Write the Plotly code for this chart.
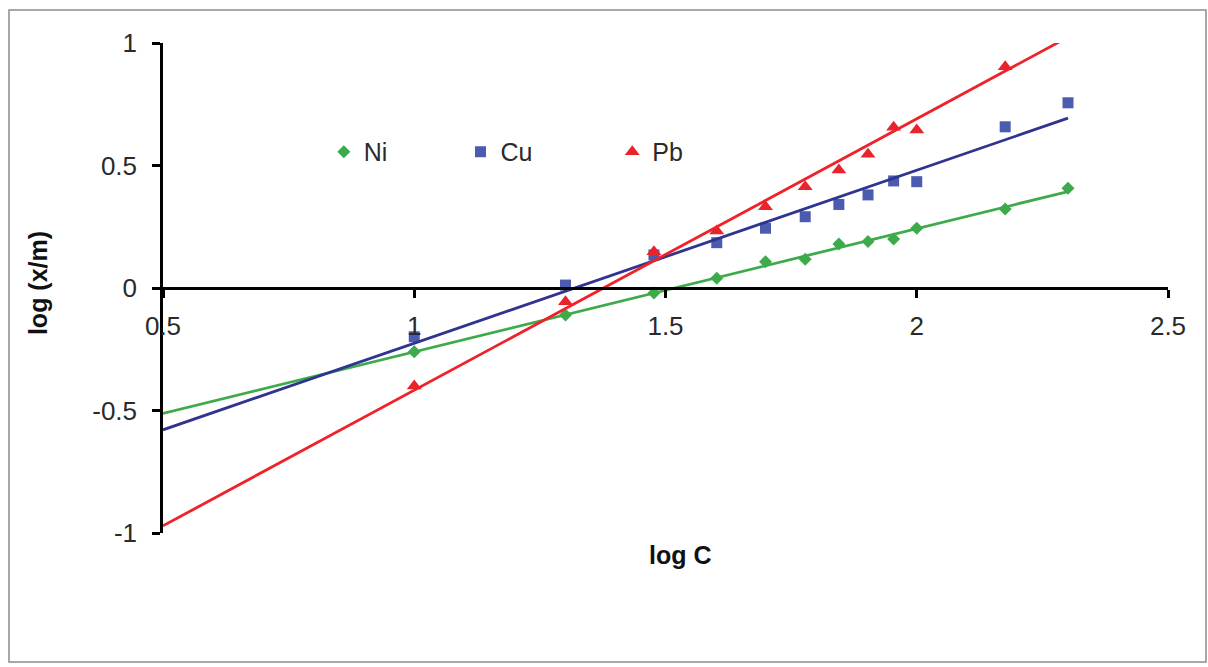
import numpy as np
import plotly.graph_objects as go

# log of equilibrium concentration (x axis)
log_c = [1.0, 1.301, 1.477, 1.602, 1.699, 1.778, 1.845, 1.903, 1.954, 2.0, 2.176, 2.301]

# log (x/m) for each metal
ni = [-0.26, -0.11, -0.02, 0.04, 0.107, 0.117, 0.18, 0.19, 0.20, 0.244, 0.322, 0.407]
cu = [-0.199, 0.012, 0.135, 0.185, 0.244, 0.291, 0.341, 0.38, 0.437, 0.434, 0.658, 0.756]
pb = [-0.40, -0.056, 0.148, 0.233, 0.332, 0.413, 0.482, 0.546, 0.656, 0.645, 0.903, 1.10]

x_ticks = [0.5, 1.0, 1.5, 2.0, 2.5]
x_tick_text = ["0.5", "1", "1.5", "2", "2.5"]
y_ticks = [-1.0, -0.5, 0.0, 0.5, 1.0]
y_tick_text = ["-1", "-0.5", "0", "0.5", "1"]

trend_start = 0.5  # linear trendlines are forecast back to this log C

FONT = "Liberation Sans, Arial, sans-serif"
TXT = "#2a2a2a"

# name, values, symbol, size, marker colour, line colour, legend id, legend x
series = [
    ("Ni", ni, "diamond", 10, "#3dab4b", "#3dab4b", "legend", 0.160),
    ("Cu", cu, "square", 11, "#4a5bb0", "#2e3490", "legend2", 0.296),
    ("Pb", pb, "triangle-up", 13, "#e8232b", "#ee2228", "legend3", 0.447),
]

fig = go.Figure()

# scatter points
for name, vals, sym, size, mcol, _, leg, _lx in series:
    fig.add_trace(go.Scatter(
        x=log_c, y=vals, mode="markers", name=name, legend=leg,
        marker=dict(symbol=sym, size=size, color=mcol, line=dict(width=0)),
        cliponaxis=True,
    ))

# least-squares trendlines
for name, vals, sym, size, mcol, lcol, leg, _lx in series:
    slope, icpt = np.polyfit(log_c, vals, 1)
    xs = np.array([trend_start, max(log_c)])
    fig.add_trace(go.Scatter(
        x=xs, y=slope * xs + icpt, mode="lines", showlegend=False,
        line=dict(color=lcol, width=2.8), hoverinfo="skip",
    ))

legend_style = dict(
    orientation="h", y=0.7776, xanchor="left", yanchor="middle",
    bgcolor="rgba(0,0,0,0)", font=dict(size=25, color=TXT),
)

fig.update_layout(
    width=1208, height=667,
    margin=dict(l=163, r=40, t=43, b=134),
    paper_bgcolor="white", plot_bgcolor="white",
    font=dict(family=FONT, size=25, color=TXT),
    showlegend=True,
    legend=dict(x=series[0][7], **legend_style),
    legend2=dict(x=series[1][7], **legend_style),
    legend3=dict(x=series[2][7], **legend_style),
    xaxis=dict(
        range=[0.5, 2.5], anchor="free", position=0.5,
        tickmode="array", tickvals=x_ticks, ticktext=x_tick_text,
        showline=True, linecolor="black", linewidth=2.5,
        ticks="outside", ticklen=8, tickwidth=2.5, tickcolor="black",
        showgrid=False, zeroline=False, ticklabelstandoff=6,
        tickfont=dict(size=26, color=TXT),
    ),
    yaxis=dict(
        range=[-1, 1], tickmode="array", tickvals=y_ticks, ticktext=y_tick_text,
        showline=True, linecolor="black", linewidth=2.5,
        ticks="outside", ticklen=8, tickwidth=2.5, tickcolor="black",
        showgrid=False, zeroline=False, ticklabelstandoff=10,
        tickfont=dict(size=26, color=TXT),
    ),
    annotations=[
        dict(text="<b>log C</b>", xref="paper", yref="paper", x=0.5154, y=-0.0449,
             showarrow=False, font=dict(size=25, color="#111111"),
             xanchor="center", yanchor="middle"),
        dict(text="<b>log (x/m)</b>", xref="paper", yref="paper", x=-0.1244, y=0.51,
             showarrow=False, textangle=-90, font=dict(size=25, color="#111111"),
             xanchor="center", yanchor="middle"),
    ],
    shapes=[
        dict(type="rect", xref="paper", yref="paper",
             x0=(9 - 163) / 1005, x1=(1206 - 163) / 1005,
             y0=(533 - 662) / 490, y1=(533 - 10) / 490,
             line=dict(color="#8c8c8c", width=1.5), fillcolor="rgba(0,0,0,0)",
             layer="below"),
    ],
)

fig.write_html("out.html")
